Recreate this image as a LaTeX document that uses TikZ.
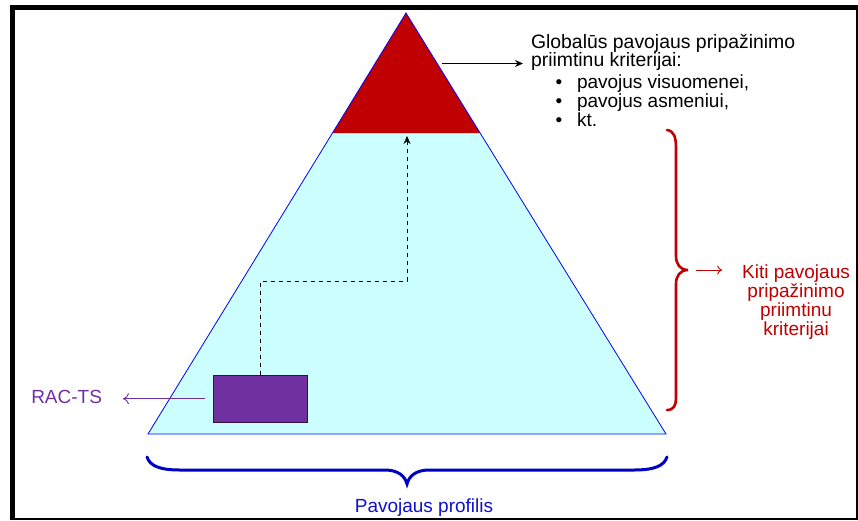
\documentclass[tikz,border=0pt]{standalone}
\usepackage{fontspec}
\setmainfont{Liberation Sans}
\usetikzlibrary{arrows.meta}
\definecolor{peakred}{HTML}{C00000}
\definecolor{bodycyan}{HTML}{CCFFFF}
\definecolor{edgeblue}{HTML}{0000FF}
\definecolor{racpurple}{HTML}{7030A0}
\definecolor{bracered}{HTML}{C00000}
\definecolor{braceblue}{HTML}{0000C0}
\definecolor{profblue}{HTML}{1010D0}
\begin{document}
\begin{tikzpicture}[x=1pt,y=-1pt,
  lbl/.style={font=\fontsize{19}{19}\selectfont, inner sep=0pt, outer sep=0pt},
  bigl/.style={font=\fontsize{19.4}{19}\selectfont, inner sep=0pt, outer sep=0pt},
  dot/.style={font=\fontsize{19}{19}\selectfont, inner sep=0pt, outer sep=0pt},
  thinarrow/.style={line width=0.9pt, -{To[length=5pt,width=9pt]}}]
\useasboundingbox (0,0) rectangle (858,520);

% outer frame: thick left and top, thin right and bottom
\draw[line width=1.6pt] (12,519) -- (856.7,519) -- (856.7,7.5);
\draw[line width=5pt] (12.5,520) -- (12.5,7.5) -- (857.5,7.5);

% pyramid: cyan body with red peak
\fill[bodycyan] (332.5,133) -- (148,434) -- (666,434) -- (480.1,133) -- cycle;
\fill[peakred] (406,13) -- (332.5,133) -- (480.1,133) -- cycle;
\draw[edgeblue, line width=0.8pt] (406,13) -- (148,434) -- (666,434) -- cycle;

% RAC-TS box and its label
\node[draw=black!60!racpurple, fill=racpurple, line width=0.8pt,
      minimum width=94pt, minimum height=46.7pt, inner sep=0pt, anchor=north west]
      (rac) at (213.3,375) {};
\node[lbl, text=racpurple, anchor=base east] (ractxt) at (102,403.3) {RAC-TS};
\draw[racpurple, line width=0.9pt, -{To[length=6pt,width=11pt]},
      shorten <=8pt, shorten >=21pt] (rac.west) -- (rac.west -| ractxt.east);

% dashed path from the box up to the peak
\coordinate (peakbase) at (407,136);
\draw[line width=0.9pt, dash pattern=on 4.5pt off 3.5pt, -{Stealth[length=8pt,width=7pt]}]
  (rac.north) -- ++(0,-94) -| (peakbase);

% global criteria text
\node[bigl, anchor=base west] (g1) at (531,48) {Globalūs pavojaus pripažinimo};
\node[bigl, anchor=base west] (g2) at (531,66) {priimtinu kriterijai:};
\node[dot, anchor=base] (d1) at (559,88) {•};
\node[dot, anchor=base] (d2) at (559,107) {•};
\node[dot, anchor=base] (d3) at (559,126) {•};
\node[lbl, anchor=base west] (l1) at (577,88) {pavojus visuomenei,};
\node[lbl, anchor=base west] (l2) at (577,107) {pavojus asmeniui,};
\node[lbl, anchor=base west] (l3) at (577,126) {kt.};
\coordinate (peakside) at (442,63.5);
\draw[line width=0.9pt, -{Stealth[length=8pt,width=7pt]}, shorten >=8pt]
  (peakside) -- (peakside -| g2.west);

% right brace and other criteria
\draw[bracered, line width=2.6pt, line cap=round]
  (667,130) .. controls (674,131) and (676,137) .. (676,148) -- (676,256)
  .. controls (676,264) and (680,270) .. (688,270)
  .. controls (680,270) and (676,276) .. (676,284) -- (676,398)
  .. controls (676,405) and (674,410) .. (667,410);
\coordinate (bracetip) at (696,270);
\node[lbl, text=bracered, anchor=base] (k1) at (796,278) {Kiti pavojaus};
\node[lbl, text=bracered, anchor=base] (k2) at (796,297) {pripažinimo};
\node[lbl, text=bracered, anchor=base] (k3) at (796,316) {priimtinu};
\node[lbl, text=bracered, anchor=base] (k4) at (796,335) {kriterijai};
\draw[bracered, thinarrow, shorten >=20pt] (bracetip) -- (bracetip -| k1.west);

% bottom brace and profile label
\draw[braceblue, line width=3pt, line cap=round]
  (147,457) .. controls (150,466) and (160,470) .. (180,470) -- (385,470)
  .. controls (398,470) and (405,476) .. (407,484)
  .. controls (409,476) and (416,470) .. (429,470) -- (634,470)
  .. controls (654,470) and (664,466) .. (667,457);
\node[lbl, text=profblue, anchor=base] (prof) at (424,512) {Pavojaus profilis};
\end{tikzpicture}
\end{document}
